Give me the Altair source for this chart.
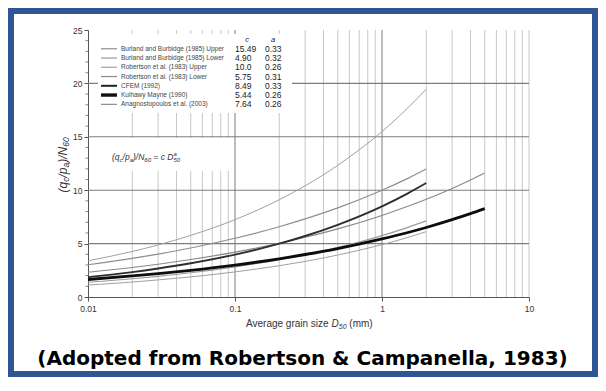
import altair as alt
import pandas as pd

# ---------------- data ----------------
SERIES = [
    "Burland and Burbidge (1985) Upper",
    "Burland and Burbidge (1985) Lower",
    "Robertson et al. (1983) Upper",
    "Robertson et al. (1983) Lower",
    "CFEM (1992)",
    "Kulhawy Mayne (1990)",
    "Anagnostopoulos et al. (2003)",
]
C_VALUES = ["15.49", "4.90", "10.0", "5.75", "8.49", "5.44", "7.64"]
A_VALUES = ["0.33", "0.32", "0.26", "0.31", "0.33", "0.26", "0.26"]

D_TO_2 = [0.01, 0.02, 0.03, 0.05, 0.1, 0.2, 0.3, 0.5, 1, 1.5, 2]
D_TO_5 = [0.01, 0.02, 0.03, 0.05, 0.1, 0.2, 0.3, 0.5, 1, 1.5, 2, 3, 4, 5]

BURLAND_UPPER = [3.39, 4.26, 4.87, 5.77, 7.24, 9.11, 10.41, 12.33, 15.49, 17.71, 19.47]
BURLAND_LOWER = [1.12, 1.40, 1.60, 1.88, 2.35, 2.93, 3.33, 3.93, 4.90, 5.58, 6.12]
ROBERTSON_UPPER = [3.02, 3.62, 4.02, 4.59, 5.50, 6.58, 7.31, 8.35, 10.0, 11.11, 11.98]
ROBERTSON_LOWER = [1.38, 1.71, 1.94, 2.27, 2.82, 3.49, 3.96, 4.64, 5.75, 6.52, 7.13]
CFEM = [1.86, 2.33, 2.67, 3.16, 3.97, 4.99, 5.71, 6.76, 8.49, 9.71, 10.67]
KULHAWY = [1.64, 1.97, 2.19, 2.50, 2.99, 3.58, 3.98, 4.54, 5.44, 6.04, 6.51, 7.24, 7.80, 8.27]
ANAGNOSTOPOULOS = [2.31, 2.76, 3.07, 3.51, 4.20, 5.03, 5.59, 6.38, 7.64, 8.49, 9.15, 10.17, 10.96, 11.61]

X_TICKS = [0.01, 0.1, 1, 10]
Y_TICKS = [0, 5, 10, 15, 20, 25]
X_GRID_MAJOR = [0.1, 1]
X_GRID_MINOR = [0.02, 0.03, 0.04, 0.05, 0.06, 0.07, 0.08, 0.09,
                0.2, 0.3, 0.4, 0.5, 0.6, 0.7, 0.8, 0.9,
                2, 3, 4, 5, 6, 7, 8, 9, 10]
Y_GRID = [5, 10, 15, 20]
Y_MINOR = [1, 2, 3, 4, 6, 7, 8, 9, 11, 12, 13, 14, 16, 17, 18, 19, 21, 22, 23, 24]

CAPTION = "(Adopted from Robertson & Campanella, 1983)"

# ---------------- styles ----------------
CURVE_COLORS = ["#a0a0a0", "#a0a0a0", "#8e8e8e", "#9c9c9c", "#2e2e2e", "#0d0d0d", "#888888"]
CURVE_WIDTHS = [1.0, 1.0, 1.2, 1.2, 1.9, 2.8, 1.1]
LEGEND_COLORS = ["#555555", "#666666", "#a8a8a8", "#8a8a8a", "#222222", "#111111", "#777777"]
LEGEND_WIDTHS = [0.8, 0.8, 1.3, 1.2, 2.0, 3.4, 1.0]
FONT = "Liberation Sans"

# ---------------- layout ----------------
W, H = 441, 267
OX, OY = 88, 30          # page position of the plot origin


def px(x):
    return x - OX


def py(y):
    return y - OY


xs = alt.Scale(type="log", domain=[0.01, 10])
ys = alt.Scale(domain=[0, 25])
ONE = pd.DataFrame({"k": [0]})

x_axis = alt.Axis(values=X_TICKS, format="~g", grid=False, title=None, domainColor="#555555",
                  tickColor="#555555", tickSize=4, labelFontSize=8.5, labelColor="#333333",
                  labelFont=FONT, labelPadding=3, labelFlush=False, labelOverlap=False)
y_axis = alt.Axis(values=Y_TICKS, grid=False, title=None, domainColor="#555555",
                  tickColor="#555555", tickSize=4, labelFontSize=8.5, labelColor="#333333",
                  labelFont=FONT, labelPadding=2, labelFlush=False, labelOverlap=False)

EM = {" ": .278, "(": .333, ")": .333, "/": .278, "=": .584, "q": .556, "p": .556,
      "c": .5, "a": .556, "N": .722, "D": .722, "A": .667, "v": .5, "e": .556,
      "r": .333, "g": .556, "i": .222, "n": .556, "s": .5, "z": .5, "m": .833}


def width(t, size):
    return sum(EM.get(ch, .556) for ch in t) * size


def text_layer(text, x, y, size, italic=False, bold=False, angle=0, align="left",
               baseline="alphabetic", font=FONT, color="#222222"):
    kw = dict(text=text, align=align, baseline=baseline, fontSize=size, font=font, color=color)
    if italic:
        kw["fontStyle"] = "italic"
    if bold:
        kw["fontWeight"] = "bold"
    if angle:
        kw["angle"] = angle
    return alt.Chart(ONE).mark_text(**kw).encode(x=alt.value(x), y=alt.value(y))


def run(parts, x0, y0, vertical=False, color="#222222"):
    out = []
    pos = 0.0
    for text, size, shift, italic, advance in parts:
        lead = len(text) - len(text.lstrip(" "))
        p = pos + lead * EM[" "] * size
        core = text.strip(" ")
        if vertical:
            out.append(text_layer(core, px(x0 + shift), py(y0 - p), size, italic=italic,
                                  angle=270, color=color))
        else:
            out.append(text_layer(core, px(x0 + p), py(y0 + shift), size, italic=italic,
                                  color=color))
        if advance:
            pos += width(text, size)
    return out


layers = []

# frame
layers.append(alt.Chart(ONE).mark_rect(fillOpacity=0, stroke="#2F5597", strokeWidth=6).encode(
    x=alt.value(px(11)), x2=alt.value(px(595)), y=alt.value(py(11)), y2=alt.value(py(374))))

# grid
layers.append(alt.Chart(pd.DataFrame({"v": X_GRID_MINOR})).mark_rule(color="#c8c8c8", strokeWidth=1).encode(
    x=alt.X("v:Q", scale=xs, axis=x_axis), y=alt.value(0), y2=alt.value(H)))
layers.append(alt.Chart(pd.DataFrame({"v": X_GRID_MAJOR})).mark_rule(color="#7c7c7c", strokeWidth=1).encode(
    x=alt.X("v:Q", scale=xs, axis=x_axis), y=alt.value(0), y2=alt.value(H)))
layers.append(alt.Chart(pd.DataFrame({"v": Y_GRID})).mark_rule(color="#7c7c7c", strokeWidth=1.1).encode(
    y=alt.Y("v:Q", scale=ys, axis=y_axis), x=alt.value(0), x2=alt.value(W)))

# white boxes behind the legend and the formula
layers.append(alt.Chart(ONE).mark_rect(fill="white").encode(
    x=alt.value(px(98)), x2=alt.value(px(292)), y=alt.value(py(34)), y2=alt.value(py(113))))
layers.append(alt.Chart(ONE).mark_rect(fill="white").encode(
    x=alt.value(px(98)), x2=alt.value(px(232)), y=alt.value(py(138)), y2=alt.value(py(171))))

# curves
CURVES = [
    (SERIES[0], D_TO_2, BURLAND_UPPER),
    (SERIES[1], D_TO_2, BURLAND_LOWER),
    (SERIES[2], D_TO_2, ROBERTSON_UPPER),
    (SERIES[3], D_TO_2, ROBERTSON_LOWER),
    (SERIES[6], D_TO_5, ANAGNOSTOPOULOS),
    (SERIES[4], D_TO_2, CFEM),
    (SERIES[5], D_TO_5, KULHAWY),
]
for name, dvals, yvals in CURVES:
    k = SERIES.index(name)
    df = pd.DataFrame({"D": dvals, "v": yvals})
    layers.append(alt.Chart(df).mark_line(
        color=CURVE_COLORS[k], strokeWidth=CURVE_WIDTHS[k], interpolate="monotone").encode(
        x=alt.X("D:Q", scale=xs, axis=x_axis),
        y=alt.Y("v:Q", scale=ys, axis=y_axis)))

# minor y ticks
layers.append(alt.Chart(pd.DataFrame({"v": Y_MINOR})).mark_rule(color="#666666", strokeWidth=0.8).encode(
    y=alt.Y("v:Q", scale=ys, axis=y_axis), x=alt.value(-2.5), x2=alt.value(0)))

# legend
ROW0, ROWSTEP = 48.8, 9.25
leg = pd.DataFrame({
    "series": SERIES,
    "c": C_VALUES,
    "a": A_VALUES,
    "ly": [py(ROW0 + i * ROWSTEP) for i in range(len(SERIES))],
    "col": LEGEND_COLORS,
    "w": LEGEND_WIDTHS,
})
layers.append(alt.Chart(leg).mark_rule().encode(
    x=alt.value(px(101)), x2=alt.value(px(117)),
    y=alt.Y("ly:Q", scale=None),
    color=alt.Color("col:N", scale=None, legend=None),
    strokeWidth=alt.StrokeWidth("w:Q", scale=None, legend=None)))
layers.append(alt.Chart(leg).mark_text(align="left", baseline="middle", fontSize=6.5, font=FONT,
                                      color="#444444").encode(
    x=alt.value(px(121)), y=alt.Y("ly:Q", scale=None), text="series:N"))
layers.append(alt.Chart(leg).mark_text(align="left", baseline="middle", fontSize=8.5, font=FONT,
                                      color="#222222").encode(
    x=alt.value(px(235)), y=alt.Y("ly:Q", scale=None), text="c:N"))
layers.append(alt.Chart(leg).mark_text(align="left", baseline="middle", fontSize=8.5, font=FONT,
                                      color="#222222").encode(
    x=alt.value(px(265)), y=alt.Y("ly:Q", scale=None), text="a:N"))
layers.append(text_layer("c", px(247), py(41.5), 7.5, italic=True, align="center"))
layers.append(text_layer("a", px(273), py(41.5), 7.5, italic=True, align="center"))

# formula  (qc/pa)/N60 = c D50^a
layers += run([
    ("(q", 8.5, 0, True, True),
    ("c", 6, 2, True, True),
    ("/p", 8.5, 0, True, True),
    ("a", 6, 2, True, True),
    (")/N", 8.5, 0, True, True),
    ("60", 6, 2, True, True),
    (" = c D", 8.5, 0, True, True),
    ("a", 6, -4.5, True, False),
    ("50", 6, 2, True, True),
], 112, 160, color="#333333")

# x title
layers += run([
    ("Average grain size ", 10, 0, False, True),
    ("D", 10, 0, True, True),
    ("50", 7, 2.5, True, True),
    (" (mm)", 10, 0, False, True),
], 246, 326.5, color="#333333")

# y title (rotated)
layers += run([
    ("(q", 12, 0, True, True),
    ("c", 8.5, 2.5, True, True),
    ("/p", 12, 0, True, True),
    ("a", 8.5, 2.5, True, True),
    (")/N", 12, 0, True, True),
    ("60", 8.5, 2.5, True, True),
], 66.5, 192.5, vertical=True, color="#333333")

# caption
layers.append(text_layer(CAPTION, px(302.5), py(359), 20, bold=True, align="center",
                         baseline="middle", font="DejaVu Sans", color="#000000"))

chart = alt.layer(*layers).properties(
    width=W, height=H,
    padding={"left": OX - 8, "top": OY - 8, "right": 590 - (OX - 8) - W, "bottom": 80},
    autosize=alt.AutoSizeParams(type="none"),
    background="white",
).configure_view(strokeWidth=0)

chart.save("out.html", embed_options={"renderer": "svg", "actions": False})
